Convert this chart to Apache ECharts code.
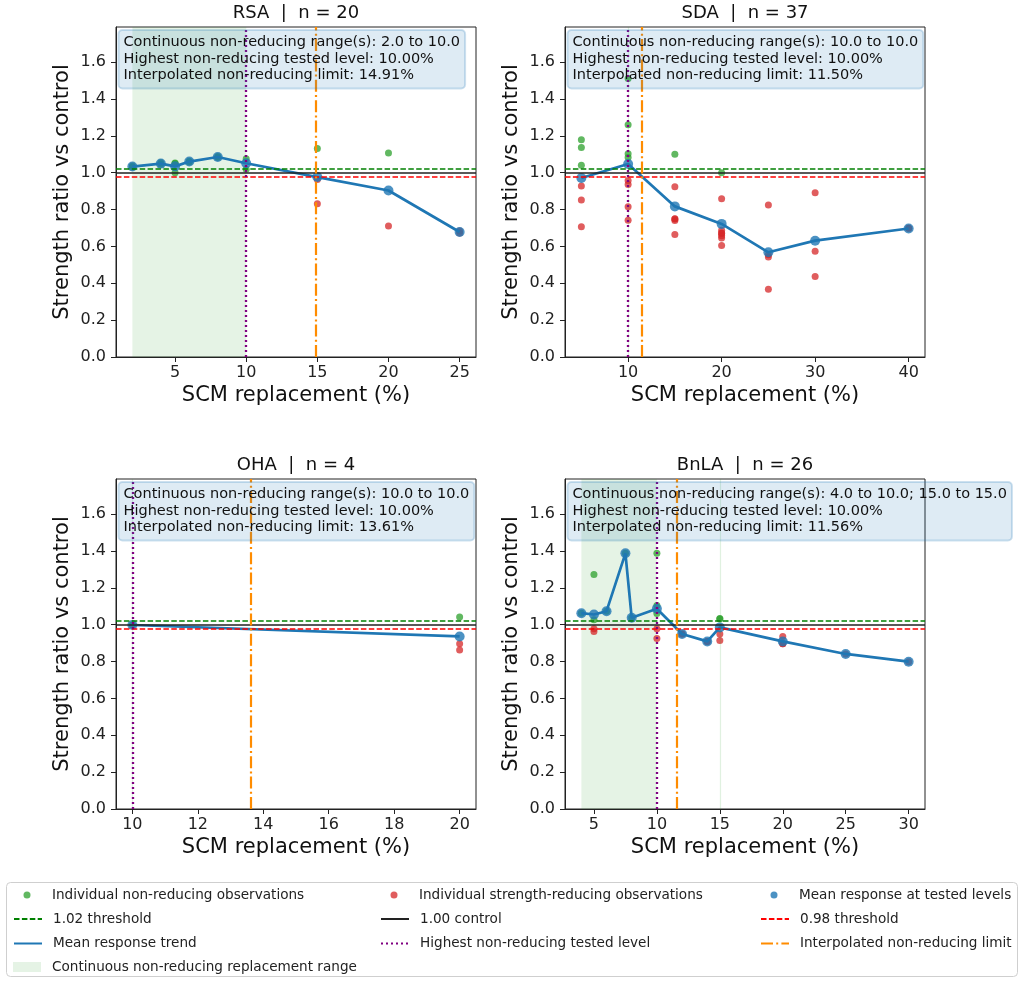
<!DOCTYPE html>
<html>
<head>
<meta charset="utf-8">
<title>Strength ratio vs SCM replacement</title>
<script src="https://cdn.jsdelivr.net/npm/echarts@6/dist/echarts.min.js"></script>
<style>
  html, body { margin: 0; padding: 0; background: #fff; }
  #chart { width: 1022px; height: 983px; }
</style>
</head>
<body>
<div id="chart"></div>
<script>
const panelNames = ['RSA', 'SDA', 'OHA', 'BnLA']
const panelN = [20, 37, 4, 26]

// individual observations: [replacement %, strength ratio]
const rsaGreen = [[2, 1.030], [2, 1.036], [4, 1.045], [4, 1.053], [5, 1.050], [5, 1.000], [5, 1.052],
  [6, 1.058], [6, 1.062], [8, 1.082], [8, 1.088], [10, 1.076], [10, 1.018], [15, 1.131], [20, 1.107]]
const rsaRed = [[15, 0.963], [15, 0.831], [20, 0.711], [25, 0.672], [25, 0.684]]

const sdaGreen = [[5, 1.178], [5, 1.136], [5, 1.040], [10, 1.510], [10, 1.260], [10, 1.103], [10, 1.082],
  [15, 1.100], [20, 1.000]]
const sdaRed = [[5, 0.927], [5, 0.851], [5, 0.706], [10, 0.958], [10, 0.936], [10, 0.815], [10, 0.742],
  [15, 0.924], [15, 0.749], [15, 0.740], [15, 0.664], [15, 0.750],
  [20, 0.858], [20, 0.687], [20, 0.673], [20, 0.658], [20, 0.646], [20, 0.605], [20, 0.670],
  [25, 0.825], [25, 0.555], [25, 0.542], [25, 0.367], [30, 0.891], [30, 0.573], [30, 0.436],
  [40, 0.698], [40, 0.698]]

const ohaGreen = [[10, 0.998], [20, 1.042]]
const ohaRed = [[20, 0.896], [20, 0.863]]

const bnlaGreen = [[4, 1.062], [5, 1.272], [5, 1.026], [6, 1.073], [7.5, 1.387], [8, 1.037],
  [10, 1.387], [10, 1.104], [10, 1.060], [15, 1.033], [15, 1.030]]
const bnlaRed = [[5, 0.978], [5, 0.963], [10, 0.978], [10, 0.925], [12, 0.949], [12, 0.949],
  [14, 0.909], [14, 0.909], [15, 0.949], [15, 0.914], [20, 0.936], [20, 0.896], [20, 0.896],
  [25, 0.841], [30, 0.799]]

// mean response at tested levels
const rsaMeanX = [2, 4, 5, 6, 8, 10, 15, 20, 25]
const rsaMeanY = [1.033, 1.049, 1.034, 1.060, 1.085, 1.051, 0.976, 0.903, 0.678]
const sdaMeanX = [5, 10, 15, 20, 25, 30, 40]
const sdaMeanY = [0.971, 1.047, 0.817, 0.722, 0.568, 0.631, 0.697]
const ohaMeanX = [10, 20]
const ohaMeanY = [0.998, 0.936]
const bnlaMeanX = [4, 5, 6, 7.5, 8, 10, 12, 14, 15, 20, 25, 30]
const bnlaMeanY = [1.062, 1.055, 1.073, 1.387, 1.037, 1.086, 0.949, 0.909, 0.985, 0.909, 0.841, 0.799]

const nonReducingRanges = [[[2, 10]], [[10, 10]], [[10, 10]], [[4, 10], [15, 15]]]
const highestLevel = [10, 10, 10, 10]
const interpLimit = [14.91, 11.50, 13.61, 11.56]

const xTicks = [[5, 10, 15, 20, 25], [10, 20, 30, 40], [10, 12, 14, 16, 18, 20], [5, 10, 15, 20, 25, 30]]
const yTicks = [0, 0.2, 0.4, 0.6, 0.8, 1.0, 1.2, 1.4, 1.6]
const yMax = 1.79
const upperThr = 1.02
const controlLevel = 1.0
const lowerThr = 0.98

const greenPts = [rsaGreen, sdaGreen, ohaGreen, bnlaGreen]
const redPts = [rsaRed, sdaRed, ohaRed, bnlaRed]
const meanX = [rsaMeanX, sdaMeanX, ohaMeanX, bnlaMeanX]
const meanY = [rsaMeanY, sdaMeanY, ohaMeanY, bnlaMeanY]

const FONT = 'DejaVu Sans'
const grids = [
  { left: 116, top: 27 }, { left: 565, top: 27 },
  { left: 116, top: 479 }, { left: 565, top: 479 }
]
const GW = 360, GH = 330

const N_GREEN = 'Individual non-reducing observations'
const N_RED = 'Individual strength-reducing observations'
const N_MEAN = 'Mean response at tested levels'
const N_UP = '1.02 threshold'
const N_CTRL = '1.00 control'
const N_LOW = '0.98 threshold'
const N_TREND = 'Mean response trend'
const N_HIGH = 'Highest non-reducing tested level'
const N_LIMIT = 'Interpolated non-reducing limit'
const N_RANGE = 'Continuous non-reducing replacement range'

const SHADE = 'rgba(44,160,44,0.12)'
const styles = {
  up: { color: '#008000', width: 1.5, type: [5.5, 2.4] },
  ctrl: { color: '#222', width: 1.5, type: 'solid' },
  low: { color: '#ff0000', width: 1.5, type: [5.5, 2.4] },
  high: { color: '#800080', width: 2.3, type: [2, 3] },
  limit: { color: '#ff8c00', width: 2.2, type: [12, 3.2, 2, 3.2] }
}

function refLine(name, i, key, value, style) {
  return {
    name, type: 'line', xAxisIndex: i, yAxisIndex: i, data: [], symbol: 'none', z: 4,
    lineStyle: style, itemStyle: { color: style.color },
    markLine: {
      silent: true, symbol: ['none', 'none'], label: { show: false },
      lineStyle: style, data: [{ [key]: value }], animation: false
    }
  }
}

const xAxes = [], yAxes = [], gridOpts = [], series = [], graphics = []

for (let i = 0; i < 4; i++) {
  const g = grids[i]
  gridOpts.push({ left: g.left, top: g.top, width: GW, height: GH, show: true, borderColor: '#222', borderWidth: 1 })

  const xs = meanX[i]
  const lo = Math.min(...xs), hi = Math.max(...xs)
  const pad = (hi - lo) * 0.05
  xAxes.push({
    type: 'value', gridIndex: i, min: lo - pad, max: hi + pad,
    axisLine: { show: true, onZero: false, lineStyle: { color: '#222' } },
    axisTick: { show: true, length: 5, customValues: xTicks[i], lineStyle: { color: '#222' } },
    axisLabel: { customValues: xTicks[i], fontSize: 16, color: '#222', margin: 8, fontFamily: FONT },
    splitLine: { show: false },
    name: 'SCM replacement (%)', nameLocation: 'middle', nameGap: 28,
    nameTextStyle: { fontSize: 21, color: '#111', fontFamily: FONT }
  })
  yAxes.push({
    type: 'value', gridIndex: i, min: 0, max: yMax,
    axisLine: { show: true, onZero: false, lineStyle: { color: '#222' } },
    axisTick: { show: true, length: 5, customValues: yTicks, lineStyle: { color: '#222' } },
    axisLabel: { customValues: yTicks, fontSize: 16, color: '#222', margin: 10, fontFamily: FONT,
      formatter: v => v.toFixed(1) },
    splitLine: { show: false },
    name: 'Strength ratio vs control', nameLocation: 'middle', nameGap: 43,
    nameTextStyle: { fontSize: 21, color: '#111', fontFamily: FONT }
  })

  const ranges = nonReducingRanges[i]
  series.push({
    name: N_RANGE, type: 'line', xAxisIndex: i, yAxisIndex: i, data: [], symbol: 'none', z: 1,
    itemStyle: { color: SHADE }, lineStyle: { color: SHADE },
    markArea: {
      silent: true, itemStyle: { color: SHADE },
      data: ranges.filter(r => r[1] > r[0]).map(r => [{ xAxis: r[0] }, { xAxis: r[1] }])
    },
    markLine: {
      silent: true, symbol: ['none', 'none'], label: { show: false }, animation: false,
      lineStyle: { color: 'rgba(44,160,44,0.15)', width: 1.2, type: 'solid' },
      data: ranges.filter(r => r[1] === r[0]).map(r => ({ xAxis: r[0] }))
    }
  })
  series.push({
    name: N_GREEN, type: 'scatter', xAxisIndex: i, yAxisIndex: i, data: greenPts[i],
    symbolSize: 7, itemStyle: { color: '#2ca02c', opacity: 0.75 }, z: 2
  })
  series.push({
    name: N_RED, type: 'scatter', xAxisIndex: i, yAxisIndex: i, data: redPts[i],
    symbolSize: 7, itemStyle: { color: '#d62728', opacity: 0.75 }, z: 2
  })
  const meanPts = xs.map((x, k) => [x, meanY[i][k]])
  series.push({
    name: N_TREND, type: 'line', xAxisIndex: i, yAxisIndex: i, data: meanPts, symbol: 'none', z: 3,
    lineStyle: { color: '#1f77b4', width: 2.7 }, itemStyle: { color: '#1f77b4' }
  })
  series.push({
    name: N_MEAN, type: 'scatter', xAxisIndex: i, yAxisIndex: i, data: meanPts,
    symbolSize: 10, itemStyle: { color: '#1f77b4' }, z: 3
  })
  series.push(refLine(N_UP, i, 'yAxis', upperThr, styles.up))
  series.push(refLine(N_CTRL, i, 'yAxis', controlLevel, styles.ctrl))
  series.push(refLine(N_LOW, i, 'yAxis', lowerThr, styles.low))
  series.push(refLine(N_HIGH, i, 'xAxis', highestLevel[i], styles.high))
  series.push(refLine(N_LIMIT, i, 'xAxis', interpLimit[i], styles.limit))

  // panel title
  graphics.push({
    type: 'text', x: g.left + GW / 2, y: g.top - 14, z: 10,
    style: {
      text: panelNames[i] + '  |  n = ' + panelN[i], fontSize: 18, fontFamily: FONT, fill: '#111',
      align: 'center', verticalAlign: 'middle'
    }
  })
  // annotation box
  const rangeText = ranges.map(r => r[0].toFixed(1) + ' to ' + r[1].toFixed(1)).join('; ')
  graphics.push({
    type: 'text', x: g.left + 2.5, y: g.top + 3, z: 10,
    style: {
      text: 'Continuous non-reducing range(s): ' + rangeText +
        '\nHighest non-reducing tested level: ' + highestLevel[i].toFixed(2) + '%' +
        '\nInterpolated non-reducing limit: ' + interpLimit[i].toFixed(2) + '%',
      fontSize: 14.5, fontFamily: FONT, fill: '#111', lineHeight: 16.5,
      backgroundColor: 'rgba(31,119,180,0.15)', borderColor: 'rgba(31,119,180,0.22)', borderWidth: 1,
      borderRadius: 4, padding: [4, 5, 5, 5]
    }
  })
}

// legend frame
graphics.push({
  type: 'rect', z: 0,
  shape: { x: 6.5, y: 882.5, width: 1011, height: 94, r: 4 },
  style: { fill: '#fff', stroke: '#cfcfcf', lineWidth: 1 }
})

const colLeft = [13, 380, 760]
const rowY = [894, 918, 942.5, 966]
const legendItems = [
  [N_GREEN, 0, 0, 'dot'], [N_RED, 1, 0, 'dot'], [N_MEAN, 2, 0, 'dot'],
  [N_UP, 0, 1, 'line'], [N_CTRL, 1, 1, 'line'], [N_LOW, 2, 1, 'line'],
  [N_TREND, 0, 2, 'line'], [N_HIGH, 1, 2, 'line'], [N_LIMIT, 2, 2, 'line'],
  [N_RANGE, 0, 3, 'rect']
]
const legends = legendItems.map(([name, c, r, kind]) => {
  let item = { name }
  if (kind === 'rect') item = { name, icon: 'rect', itemStyle: { color: SHADE } }
  if (kind === 'line') item = { name, itemStyle: { opacity: 0 } }
  const isDot = kind === 'dot'
  return {
    left: colLeft[c] + (isDot ? 10.5 : 0), top: rowY[r] - 6, padding: 0, selectedMode: false,
    itemWidth: isDot ? 7 : 28, itemHeight: isDot ? 7 : (kind === 'rect' ? 10 : 14),
    data: [item],
    textStyle: { fontSize: 13.6, color: '#222', fontFamily: FONT, padding: [0, 0, 0, isDot ? 16.5 : 6] }
  }
})

const chart = echarts.init(document.getElementById('chart'))
chart.setOption({
  animation: false,
  textStyle: { fontFamily: FONT },
  grid: gridOpts,
  xAxis: xAxes,
  yAxis: yAxes,
  legend: legends,
  graphic: graphics,
  series
})
</script>
</body>
</html>
